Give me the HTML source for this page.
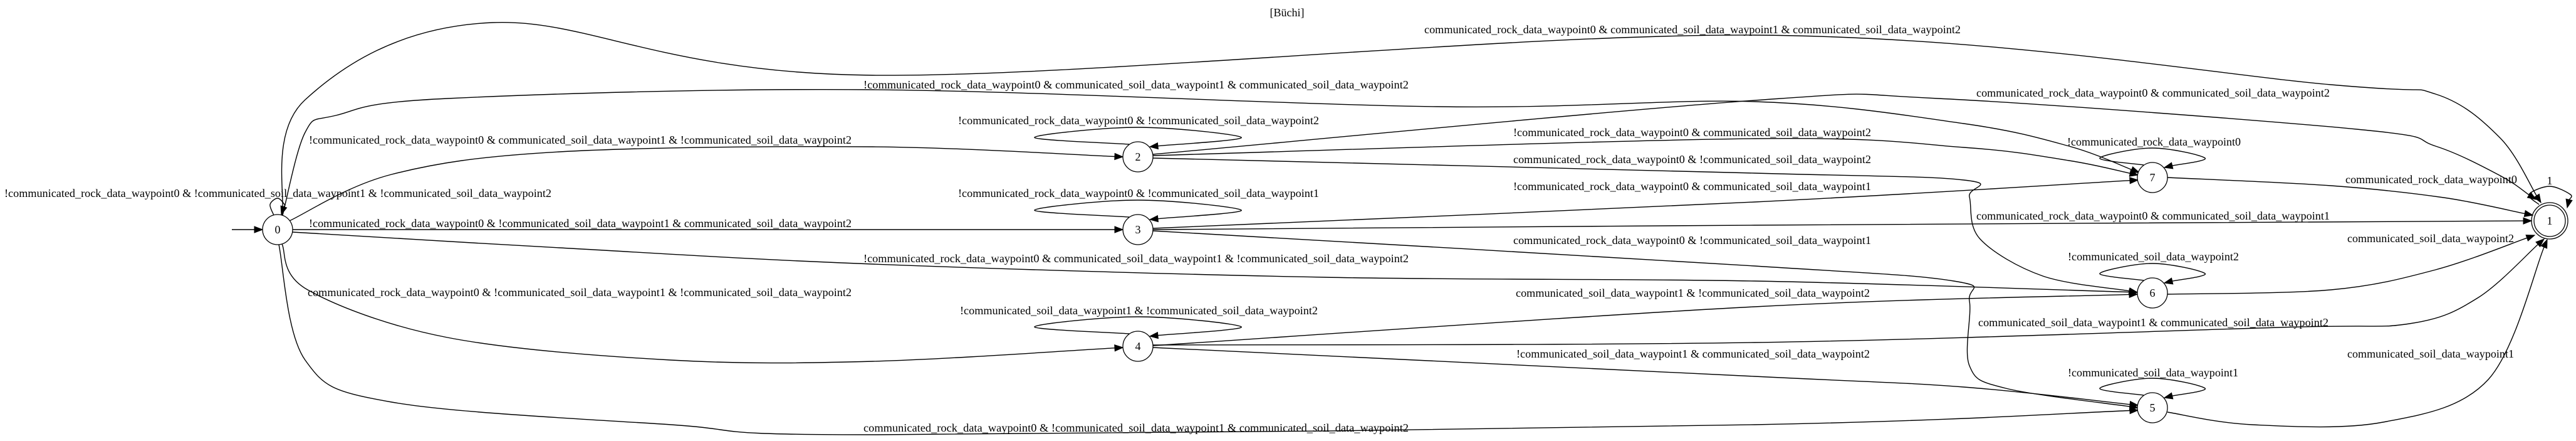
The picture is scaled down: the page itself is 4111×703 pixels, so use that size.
<!DOCTYPE html>
<html><head><meta charset="utf-8">
<style>
html,body{margin:0;padding:0;background:#fff;}
svg{display:block;}
text{font-family:"Liberation Serif","DejaVu Serif",serif;font-size:18px;fill:#000;}
</style></head>
<body>
<svg id="g" width="4111" height="703" viewBox="0 0 4111 703" xmlns="http://www.w3.org/2000/svg">
<rect x="0" y="0" width="4111" height="703" fill="#fff"/>
<g id="edges"></g>
<g id="nodes"></g>
<g id="labels"></g>
</svg>
<script>
const NS="http://www.w3.org/2000/svg";
const nodeIds=["0","2","3","4","7","6","5","1"];
const nodeX=[443,1816,1816,1816,3435,3435,3435,4069];
const nodeY=[366,250,366,552,283,467,650,352];
const R=24;

function L(w,s){ return w; }
const edgeNames=["init-arrow","edge-0-self","edge-0-1","edge-0-7","edge-2-1","edge-0-2","edge-2-7","edge-2-6","edge-0-3","edge-3-7","edge-3-1","edge-3-5","edge-0-6","edge-4-6","edge-0-4","edge-4-1","edge-4-5","edge-0-5","edge-7-1","edge-6-1","edge-5-1","edge-2-self","edge-3-self","edge-4-self","edge-7-self","edge-6-self","edge-5-self","edge-1-self"];
function loop(cx,cy,hw){return [[cx-14,cy-20],[cx-hw,cy-31],[cx,cy-47],[cx+hw,cy-31],[cx+19,cy-16]];}
const edgePts=[
 [[370,366],[419,366]],
 [[437,343],[431,326],[443,316],[454,326],[449,342]],
 [[450,343],[487,159],[786,36],[1393,120],[2800,56],[3720,135],[3887,150],[3990,220],[4055,323]],
 [[451,343],[487,211],[536,184],[714,157],[1393,143],[2293,170],[2800,162],[3134,197],[3302,233],[3414,275]],
 [[1840,246],[2800,160],[3093,157],[3761,206],[3887,233],[3990,280],[4047,318]],
 [[462,352],[625,278],[893,242],[1393,234],[1792,250]],
 [[1840,248],[2800,221],[3134,235],[3302,256],[3412,279]],
 [[1840,252],[2800,276],[3134,287],[3143,314],[3160,381],[3260,440],[3411,466]],
 [[467,366],[1792,366]],
 [[1840,364],[2800,322],[3412,287]],
 [[1840,366],[2800,359],[4040,352]],
 [[1840,368],[2800,424],[3118,448],[3143,480],[3143,583],[3201,619],[3412,650]],
 [[467,370],[893,395],[1393,421],[2114,442],[2800,448],[3411,466]],
 [[1840,551],[2800,489],[3411,469]],
 [[450,389],[491,462],[714,538],[1071,574],[1393,576],[1792,554]],
 [[1840,550],[2800,546],[3636,522],[3845,516],[3954,475],[4060,381]],
 [[1840,554],[2800,600],[3134,617],[3412,646]],
 [[445,390],[487,574],[625,641],[1071,677],[1400,693],[2800,677],[3412,654]],
 [[3459,283],[3720,296],[3900,315],[4042,343]],
 [[3459,469],[3720,462],[3887,430],[4045,375]],
 [[3459,657],[3594,677],[3803,673],[3971,605],[4065,382]],
 loop(1816,250,165), loop(1816,366,165), loop(1816,552,165),
 loop(3435,283,84), loop(3435,467,84), loop(3435,650,84),
 [[4052,326],[4036,310],[4069,297],[4102,310],[4097,331]]
];

function crPath(p){
  let d="M"+p[0][0]+","+p[0][1];
  if(p.length===2){return d+" L"+p[1][0]+","+p[1][1];}
  for(let i=0;i<p.length-1;i++){
    const p0=p[i-1]||p[i],p1=p[i],p2=p[i+1],p3=p[i+2]||p2;
    const c1=[p1[0]+(p2[0]-p0[0])/6,p1[1]+(p2[1]-p0[1])/6];
    const c2=[p2[0]-(p3[0]-p1[0])/6,p2[1]-(p3[1]-p1[1])/6];
    d+=" C"+c1[0].toFixed(1)+","+c1[1].toFixed(1)+" "+c2[0].toFixed(1)+","+c2[1].toFixed(1)+" "+p2[0]+","+p2[1];
  }
  return d;
}
const eg=document.getElementById("edges");
edgePts.forEach((pts,i)=>{
  const p=pts.map(a=>a.slice());
  const n=p.length, tip=p[n-1], prev=p[n-2];
  let dx=tip[0]-prev[0], dy=tip[1]-prev[1]; const len=Math.hypot(dx,dy); dx/=len; dy/=len;
  const AL=13, AW=5;
  const base=[tip[0]-dx*AL,tip[1]-dy*AL];
  p[n-1]=[+base[0].toFixed(1),+base[1].toFixed(1)];
  const g=document.createElementNS(NS,"g");
  
  
  const path=document.createElementNS(NS,"path");
  path.setAttribute("d",crPath(p));
  path.setAttribute("fill","none");path.setAttribute("stroke","#000");path.setAttribute("stroke-width","1.4");
  
  
  g.appendChild(path);
  const ah=document.createElementNS(NS,"polygon");
  ah.setAttribute("points",[tip,[base[0]-dy*AW,base[1]+dx*AW],[base[0]+dy*AW,base[1]-dx*AW]].map(a=>a[0].toFixed(1)+","+a[1].toFixed(1)).join(" "));
  ah.setAttribute("fill","#000");ah.setAttribute("stroke","#000");
  
  
  g.appendChild(ah);
  eg.appendChild(g);
});

const ng=document.getElementById("nodes");
nodeIds.forEach((id,i)=>{
  const g=document.createElementNS(NS,"g");
  
  
  const c=document.createElementNS(NS,"circle");
  c.setAttribute("cx",nodeX[i]);c.setAttribute("cy",nodeY[i]);c.setAttribute("r",id==="1"?25:R);
  c.setAttribute("fill","#fff");c.setAttribute("stroke","#000");c.setAttribute("stroke-width","1.3");
  g.appendChild(c);
  if(id==="1"){
    const c2=document.createElementNS(NS,"circle");
    c2.setAttribute("cx",nodeX[i]);c2.setAttribute("cy",nodeY[i]);c2.setAttribute("r",29);
    c2.setAttribute("fill","none");c2.setAttribute("stroke","#000");c2.setAttribute("stroke-width","1.3");
    
    
    g.appendChild(c2);
  }
  const t=document.createElementNS(NS,"text");
  t.setAttribute("x",nodeX[i]);t.setAttribute("y",nodeY[i]+6);t.setAttribute("text-anchor","middle");
  t.textContent=id;
  
  
  g.appendChild(t);
  ng.appendChild(g);
});

const R0="communicated_rock_data_waypoint0", S1="communicated_soil_data_waypoint1", S2="communicated_soil_data_waypoint2";
const labelText=[
 "!"+R0+" & !"+S1+" & !"+S2,
 "!"+R0+" & "+S1+" & !"+S2,
 "!"+R0+" & !"+S1+" & "+S2,
 R0+" & !"+S1+" & !"+S2,
 R0+" & "+S1+" & "+S2,
 "!"+R0+" & "+S1+" & "+S2,
 "!"+R0+" & !"+S2,
 "!"+R0+" & "+S2,
 R0+" & !"+S2,
 "!"+R0+" & !"+S1,
 "!"+R0+" & "+S1,
 R0+" & !"+S1,
 "!"+R0+" & "+S1+" & !"+S2,
 S1+" & !"+S2,
 "!"+S1+" & !"+S2,
 "!"+S1+" & "+S2,
 R0+" & !"+S1+" & "+S2,
 R0+" & "+S2,
 "!"+R0,
 R0,
 R0+" & "+S1,
 S2,
 "!"+S2,
 S1+" & "+S2,
 S1,
 "!"+S1
];
const labelX1=[7,493,493,491,2273,1378,1529,2415,2415,1529,2415,2415,1378,2419,1532,2420,1378,3154,3299,3743,3154,3746,3300,3157,3746,3300];
const labelX2=[880,1359,1359,1359,3129,2248,2105,2986,2986,2105,2986,2986,2248,2984,2103,2984,2248,3718,3576,4017,3718,4012,3573,3716,4012,3572];
const labelY=[308,223,356,466,47,135,192,211,254,308,297,383,412,467,495,564,682,148,226,286,344,380,409,514,564,594];
const lg=document.getElementById("labels");
labelText.forEach((s,i)=>{
  const t=document.createElementNS(NS,"text");
  t.setAttribute("x",labelX1[i]);t.setAttribute("y",labelY[i]+6);
  t.setAttribute("textLength",labelX2[i]-labelX1[i]);t.setAttribute("lengthAdjust","spacingAndGlyphs");
  t.textContent=s;
  
  
  lg.appendChild(t);
});
const one=document.createElementNS(NS,"text");
one.setAttribute("x",4069);one.setAttribute("y",294);one.setAttribute("text-anchor","middle");one.textContent="1";


lg.appendChild(one);
const title=document.createElementNS(NS,"text");
title.setAttribute("x",2054);title.setAttribute("y",26);title.setAttribute("text-anchor","middle");title.textContent="[Büchi]";


lg.appendChild(title);
</script>
</body></html>
